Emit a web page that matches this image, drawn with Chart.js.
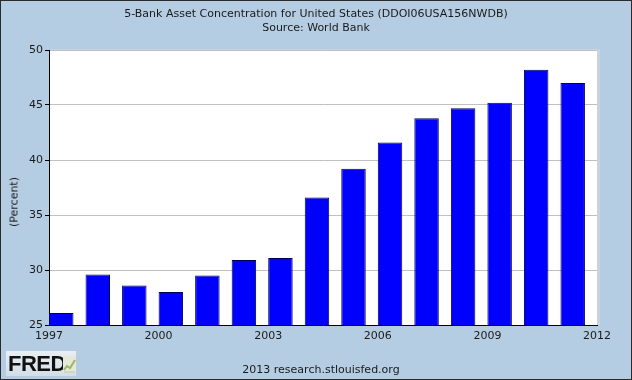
<!DOCTYPE html>
<html>
<head>
<meta charset="utf-8">
<script src="https://cdn.jsdelivr.net/npm/chart.js@4.4.0/dist/chart.umd.min.js"></script>
<style>
  html, body { margin: 0; padding: 0; }
  body { width: 632px; height: 380px; background: #b4cde3; position: relative; overflow: hidden; font-family: "DejaVu Sans", sans-serif; }
  #wrap { position: absolute; left: 0; top: 0; width: 632px; height: 380px; }
  #frame { position: absolute; left: 0; top: 0; width: 630px; height: 378px; border: 1px solid #2a2a2a; pointer-events: none; }
  .title { position: absolute; left: 0; width: 632px; text-align: center; font-size: 11px; color: #1a1a1a; white-space: nowrap; }
  #t1 { top: 7px; }
  #t2 { top: 21px; }
  #ytitle { position: absolute; left: 14px; top: 202px; font-size: 11px; color: #1a1a1a; white-space: nowrap; transform: translate(-50%, -50%) rotate(-90deg); }
  #footer { position: absolute; left: 0; width: 642px; top: 363px; text-align: center; font-size: 11px; color: #1a1a1a; }
  #logo { position: absolute; left: 6px; top: 351px; width: 70px; height: 25px; background: linear-gradient(#e8eef4, #d4dee8); }
  #logo span { position: absolute; left: 2px; top: 0px; font-family: "Liberation Sans", Arial, sans-serif; font-weight: bold; font-size: 22px; letter-spacing: -0.5px; color: #111; }
  #logo svg { position: absolute; left: 57px; top: 5px; }
</style>
</head>
<body>
<div id="wrap"><canvas id="c" width="632" height="380"></canvas></div>
<div id="t1" class="title"></div>
<div id="t2" class="title"></div>
<div id="ytitle"></div>
<div id="logo"><span>FRED</span>
  <svg width="13" height="17" viewBox="0 0 13 17">
    <rect x="0" y="0" width="13" height="17" fill="#e4e9d8"/>
    <polyline points="1,14 4,10 7,12 12,4" fill="none" stroke="#9bb86a" stroke-width="2"/>
    <line x1="1" y1="16" x2="12" y2="16" stroke="#b9c7a0" stroke-width="1"/>
  </svg>
</div>
<div id="footer">2013 research.stlouisfed.org</div>
<div id="frame"></div>
<script>
const years = [1997, 1998, 1999, 2000, 2001, 2002, 2003, 2004, 2005, 2006, 2007, 2008, 2009, 2010, 2011];
const values = [26.1, 29.6, 28.6, 28.0, 29.5, 30.9, 31.1, 36.6, 39.2, 41.6, 43.8, 44.7, 45.2, 48.2, 47.0];
const yTicks = [25, 30, 35, 40, 45, 50];
const xTicks = [1997, 2000, 2003, 2006, 2009, 2012];
const titleLines = ["5-Bank Asset Concentration for United States (DDOI06USA156NWDB)", "Source: World Bank"];
const yTitle = "(Percent)";

document.getElementById('t1').textContent = titleLines[0];
document.getElementById('t2').textContent = titleLines[1];
document.getElementById('ytitle').textContent = yTitle;

// annual bars start at the beginning of each year period
const barWidthYears = 0.67;
const points = years.map((yr, i) => ({ x: yr + barWidthYears / 2, y: values[i] }));

const plotBg = {
  id: 'plotBg',
  beforeDraw(chart) {
    const a = chart.chartArea, ctx = chart.ctx;
    ctx.save();
    ctx.fillStyle = '#c9d3dc';
    ctx.fillRect(a.left + 2, a.top - 1, a.right - a.left + 1, a.bottom - a.top + 1);
    ctx.fillStyle = '#ffffff';
    ctx.fillRect(a.left, a.top, a.right - a.left, a.bottom - a.top);
    ctx.restore();
  }
};

new Chart(document.getElementById('c'), {
  type: 'bar',
  data: {
    datasets: [{
      data: points,
      backgroundColor: '#0000ff',
      borderColor: '#000050',
      borderWidth: 1,
      barPercentage: barWidthYears,
      categoryPercentage: 1.0,
      grouped: false
    }]
  },
  options: {
    responsive: false,
    animation: false,
    layout: { padding: { left: 6, right: 35, top: 50, bottom: 0 } },
    plugins: {
      legend: { display: false },
      tooltip: { enabled: false },
      title: { display: false }
    },
    scales: {
      x: {
        type: 'linear',
        min: 1997,
        max: 2012,
        offset: false,
        afterBuildTicks(scale) { scale.ticks = xTicks.map(v => ({ value: v })); },
        ticks: {
          callback: v => String(v),
          color: '#1a1a1a',
          font: { family: 'DejaVu Sans', size: 11 },
          padding: 5,
          maxRotation: 0,
          autoSkip: false
        },
        grid: { display: false, drawTicks: false },
        border: { display: true, color: '#000000', width: 1 },
        afterFit(scale) { scale.height = 55; }
      },
      y: {
        min: 25,
        max: 50,
        afterBuildTicks(scale) { scale.ticks = yTicks.map(v => ({ value: v })); },
        ticks: {
          color: '#1a1a1a',
          font: { family: 'DejaVu Sans', size: 11 },
          padding: 2
        },
        grid: { color: '#c0c0c0', tickColor: '#000000', tickLength: 4, drawTicks: true },
        border: { display: true, color: '#000000', width: 1 },
        afterFit(scale) { scale.width = 43; }
      }
    }
  },
  plugins: [plotBg]
});
</script>
</body>
</html>
